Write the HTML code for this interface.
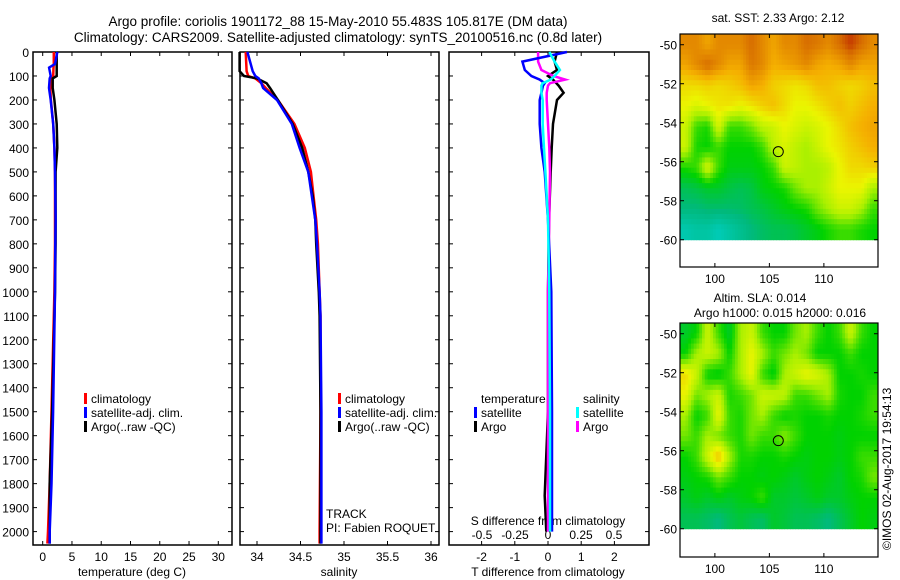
<!DOCTYPE html>
<html><head><meta charset="utf-8"><style>
html,body{margin:0;padding:0;background:#fff;}
svg{display:block;font-family:"Liberation Sans",sans-serif;}
</style></head><body>
<svg id="chart" width="900" height="580" viewBox="0 0 900 580">
<text x="338" y="26" font-size="13.5" text-anchor="middle">Argo profile: coriolis 1901172_88 15-May-2010 55.483S 105.817E (DM data)</text>
<text x="338" y="42" font-size="13.5" text-anchor="middle">Climatology: CARS2009. Satellite-adjusted climatology: synTS_20100516.nc (0.8d later)</text>
<text x="778" y="22" font-size="12" text-anchor="middle">sat. SST: 2.33 Argo: 2.12</text>
<text x="760" y="302" font-size="12" text-anchor="middle">Altim. SLA: 0.014</text>
<text x="780" y="317" font-size="12" text-anchor="middle">Argo h1000: 0.015 h2000: 0.016</text>
<text transform="translate(891,550) rotate(-90)" font-size="12">©IMOS 02-Aug-2017 19:54:13</text>
<g id="g"></g>
</svg>
<script>
const tDepth=[0,50,65,100,110,150,200,300,400,500,700,800,1000,1500,1800,2000,2050];
const tClim=[1.9,1.9,1.85,1.8,1.6,1.3,1.4,1.8,2.0,2.1,2.1,2.1,2.0,1.5,1.2,0.9,0.8];
const tSat=[2.5,2.1,1.1,1.37,1.2,1.07,1.37,1.8,2.0,2.1,2.2,2.15,2.1,1.77,1.5,1.2,1.2];
const tArgo=[2.4,2.4,2.4,2.4,1.7,1.7,2.0,2.4,2.5,2.2,2.2,2.2,2.1,1.6,1.2,1.2,1.2];
const sDepth=[0,80,100,110,130,150,200,300,400,500,600,700,800,1000,1100,1500,2000,2050];
const sClim=[33.87,33.88,33.9,33.98,34.05,34.1,34.24,34.43,34.55,34.62,34.65,34.68,34.7,34.72,34.73,34.73,34.72,34.72];
const sSat=[33.89,33.95,33.98,34.02,34.05,34.07,34.23,34.4,34.49,34.59,34.63,34.67,34.69,34.72,34.73,34.74,34.74,34.74];
const sArgo=[33.8,33.8,33.85,34.0,34.11,34.15,34.24,34.41,34.52,34.59,34.64,34.67,34.68,34.71,34.72,34.73,34.73,34.73];
const dDepth=[0,40,75,100,115,130,140,170,200,300,400,500,700,1000,1500,1850,2000];
const dTSat=[0.57,-0.77,-0.7,-0.5,-0.25,-0.1,-0.15,-0.2,-0.25,-0.25,-0.2,-0.1,0,0.1,0.12,0.12,0.12];
const dTArgo=[0.27,0.2,0.27,0,0.15,0.25,0.32,0.47,0.27,0.15,0.11,0.08,0.03,0,0,-0.1,-0.05];
const dSSat=[0.01,0.05,0.09,0.05,0.02,-0.04,-0.05,-0.05,-0.04,-0.04,-0.03,-0.02,0,0.01,0.015,0.015,0.015];
const dSArgo=[-0.075,-0.075,-0.05,0.04,0.13,0.015,0.0,-0.01,-0.01,0,0.01,0.015,0.01,0,0,0,0];
const depthTicks=[0,100,200,300,400,500,600,700,800,900,1000,1100,1200,1300,1400,1500,1600,1700,1800,1900,2000];
const tempTicks=[0,5,10,15,20,25,30];
const salTicks=[34,34.5,35,35.5,36];
const tdTicks=[-2,-1,0,1,2];
const sdTicks=[-0.5,-0.25,0,0.25,0.5];
const sdTickLabels=["-0.5","-0.25","0","0.25","0.5"];
const sstGrid=[
[.85,.85,.8,.85,.85,.85,.9,.85,.8,.85,.85,.9,.88,.85,.9,.95,.9,.85],
[.8,.85,.9,.85,.8,.8,.88,.85,.78,.8,.82,.85,.8,.78,.8,.85,.8,.8],
[.7,.7,.72,.7,.72,.75,.8,.78,.72,.7,.68,.7,.75,.75,.72,.7,.72,.75],
[.65,.62,.65,.68,.68,.65,.68,.72,.75,.7,.65,.65,.68,.72,.75,.72,.75,.78],
[.6,.45,.42,.62,.45,.45,.5,.58,.6,.65,.62,.6,.62,.65,.7,.75,.78,.8],
[.6,.42,.4,.45,.4,.4,.4,.45,.58,.62,.58,.55,.6,.65,.68,.72,.75,.78],
[.42,.45,.62,.45,.38,.38,.38,.4,.45,.6,.58,.55,.55,.58,.65,.7,.7,.72],
[.3,.32,.35,.35,.32,.3,.32,.38,.4,.42,.5,.55,.55,.6,.65,.65,.65,.55],
[.25,.25,.27,.27,.27,.28,.3,.32,.35,.38,.4,.42,.5,.55,.6,.6,.55,.45],
[.12,.15,.15,.1,.15,.2,.25,.28,.3,.3,.32,.35,.38,.42,.45,.45,.42,.4]];
const slaGrid=[
[.35,.4,.6,.45,.35,.55,.6,.45,.4,.4,.5,.55,.45,.4,.45,.6,.45,.4],
[.4,.55,.6,.55,.4,.55,.65,.55,.45,.5,.55,.5,.4,.4,.4,.45,.4,.4],
[.7,.6,.4,.38,.45,.55,.65,.45,.38,.55,.6,.65,.62,.55,.4,.4,.42,.4],
[.65,.5,.55,.6,.42,.45,.5,.6,.6,.58,.45,.45,.5,.55,.42,.4,.4,.45],
[.55,.4,.45,.65,.45,.42,.5,.55,.45,.4,.42,.4,.4,.42,.4,.4,.42,.45],
[.5,.45,.55,.5,.45,.42,.5,.45,.45,.52,.45,.4,.4,.4,.38,.4,.4,.4],
[.4,.45,.6,.75,.55,.42,.42,.4,.4,.42,.4,.38,.4,.4,.38,.4,.45,.45],
[.38,.4,.42,.5,.45,.4,.4,.38,.4,.38,.35,.38,.4,.38,.35,.4,.42,.5],
[.35,.38,.35,.38,.35,.38,.4,.45,.35,.35,.33,.35,.38,.35,.35,.38,.4,.4],
[.3,.3,.28,.25,.3,.33,.3,.28,.35,.33,.3,.3,.28,.25,.3,.35,.4,.38]];
const latTicks=[-50,-52,-54,-56,-58,-60];
const lonTicks=[100,105,110];
const argoLon=105.817, argoLat=-55.483;

const NS="http://www.w3.org/2000/svg";
const G=document.getElementById('g');
function mk(tag,attrs,parent){const e=document.createElementNS(NS,tag);for(const k in attrs)e.setAttribute(k,attrs[k]);(parent||G).appendChild(e);return e;}
function txt(x,y,s,size,anchor,parent){const t=mk('text',{x:x,y:y,'font-size':size,'text-anchor':anchor||'start'},parent);t.textContent=s;return t;}

const PT=52,PB=545;
const yD=d=>PT+d*0.2398;
const xT=v=>42.7+v*5.853;
const xS=v=>257+(v-34)*87;
const xTD=v=>548+v*33.2;
const xSD=v=>548+v*132;
const panels=[[33,232],[240,439],[449,649]];

panels.forEach((p,i)=>{
  const r=mk('rect',{x:p[0],y:PT,width:p[1]-p[0],height:PB-PT,fill:'none',stroke:'#000','stroke-width':1.5});
  
  
  depthTicks.forEach(d=>{
    mk('line',{x1:p[0],x2:p[0]+4,y1:yD(d),y2:yD(d),stroke:'#000'});
    mk('line',{x1:p[1]-4,x2:p[1],y1:yD(d),y2:yD(d),stroke:'#000'});
  });
});
depthTicks.forEach(d=>{
  const t=txt(29,yD(d)+5,String(d),12,'end');
  
  
});
function xticks(vals,fx,labels,ly){
  vals.forEach((v,i)=>{
    const x=fx(v);
    mk('line',{x1:x,x2:x,y1:PT,y2:PT+4,stroke:'#000'});
    mk('line',{x1:x,x2:x,y1:PB-4,y2:PB,stroke:'#000'});
    const t=txt(x,ly,labels?labels[i]:String(v),12,'middle');
    
    
  });
}
xticks(tempTicks,xT,null,561);
xticks(salTicks,xS,null,561);
xticks(tdTicks,xTD,null,561);
sdTicks.forEach((v,i)=>{
  const t=txt(xSD(v),539,sdTickLabels[i],12,'middle');
  
  
});
[[132,'temperature (deg C)','x-axis-title-temperature'],[339,'salinity','x-axis-title-salinity'],[548,'T difference from climatology','x-axis-title-t-diff']].forEach(a=>{
  const t=txt(a[0],576,a[1],12,'middle');
  
  
});
const st=txt(548,525,'S difference from climatology',12,'middle');



function line(depths,vals,fx,color,name){
  const pts=depths.map((d,i)=>fx(vals[i]).toFixed(1)+','+yD(d).toFixed(1)).join(' ');
  const l=mk('polyline',{points:pts,fill:'none',stroke:color,'stroke-width':2.5});
  
  
}
line(tDepth,tClim,xT,'#f00','temp-climatology-line');
line(tDepth,tArgo,xT,'#000','temp-argo-line');
line(tDepth,tSat,xT,'#00f','temp-satellite-line');
line(sDepth,sClim,xS,'#f00','sal-climatology-line');
line(sDepth,sArgo,xS,'#000','sal-argo-line');
line(sDepth,sSat,xS,'#00f','sal-satellite-line');
line(dDepth,dTArgo,xTD,'#000','tdiff-argo-line');
line(dDepth,dSArgo,xSD,'#f0f','sdiff-argo-line');
line(dDepth,dTSat,xTD,'#00f','tdiff-satellite-line');
line(dDepth,dSSat,xSD,'#0ff','sdiff-satellite-line');

function legend(x,y,color,label,name){
  const m=mk('rect',{x:x,y:y-10,width:3,height:11,fill:color});
  
  
  const t=txt(x+7,y,label,12);
  
  
}
[[84,'climatology-legend'],[338,'sal-climatology-legend']].forEach(a=>{
  legend(a[0],403,'#f00','climatology',a[1]);
  legend(a[0],417,'#00f','satellite-adj. clim.',a[1]+'-sat');
  legend(a[0],431,'#000','Argo(..raw -QC)',a[1]+'-argo');
});
const lt=txt(481,403,'temperature',12);
const ls=txt(583,403,'salinity',12);
legend(474,417,'#00f','satellite','legend-t-satellite');
legend(474,431,'#000','Argo','legend-t-argo');
legend(576,417,'#0ff','satellite','legend-s-satellite');
legend(576,431,'#f0f','Argo','legend-s-argo');
const tr=txt(326,518,'TRACK',12);
const pi=txt(326,532,'PI: Fabien ROQUET',12);

const stops=[[0,[0,215,220]],[0.25,[0,185,125]],[0.4,[0,210,0]],[0.55,[170,240,0]],[0.65,[235,245,0]],[0.78,[245,175,0]],[0.9,[215,110,0]],[1,[180,10,0]]];
function cmap(v){v=Math.max(0,Math.min(1,v));for(let i=1;i<stops.length;i++){if(v<=stops[i][0]){const a=stops[i-1],b=stops[i],f=(v-a[0])/(b[0]-a[0]);return 'rgb('+a[1].map((c,k)=>Math.round(c+(b[1][k]-c)*f)).join(',')+')';}}return 'rgb(180,10,0)';}
function sample(grid,r,c){
  const R=grid.length,C=grid[0].length;
  r=Math.max(0,Math.min(R-1,r));c=Math.max(0,Math.min(C-1,c));
  const r0=Math.floor(r),c0=Math.floor(c),r1=Math.min(R-1,r0+1),c1=Math.min(C-1,c0+1),fr=r-r0,fc=c-c0;
  return grid[r0][c0]*(1-fr)*(1-fc)+grid[r0][c1]*(1-fr)*fc+grid[r1][c0]*fr*(1-fc)+grid[r1][c1]*fr*fc;
}
function map(top,bottom,grid,name){
  const L=680,R=878;
  const lx=lon=>L+(lon-96.8)*10.9;
  const ly=lat=>top+(-49.45-lat)*19.5;
  const imgBottom=ly(-60);
  const rows=grid.length,cols=grid[0].length,sub=4;
  const cw=(R-L)/(cols*sub),ch=(imgBottom-top)/(rows*sub);
  const g=mk('g',{});
  
  
  for(let r=0;r<rows*sub;r++)for(let c=0;c<cols*sub;c++){
    const v=sample(grid,(r+0.5)/sub-0.5,(c+0.5)/sub-0.5);
    mk('rect',{x:(L+c*cw).toFixed(2),y:(top+r*ch).toFixed(2),width:(cw+0.5).toFixed(2),height:(ch+0.5).toFixed(2),fill:cmap(v)},g);
  }
  const fr=mk('rect',{x:L,y:top,width:R-L,height:bottom-top,fill:'none',stroke:'#000','stroke-width':1.2});
  
  
  latTicks.forEach(l=>{
    mk('line',{x1:L,x2:L+4,y1:ly(l),y2:ly(l),stroke:'#000'});
    mk('line',{x1:R-4,x2:R,y1:ly(l),y2:ly(l),stroke:'#000'});
    const t=txt(L-3,ly(l)+5,String(l),12,'end');
    
    
  });
  lonTicks.forEach(l=>{
    mk('line',{x1:lx(l),x2:lx(l),y1:top,y2:top+4,stroke:'#000'});
    mk('line',{x1:lx(l),x2:lx(l),y1:bottom-4,y2:bottom,stroke:'#000'});
    const t=txt(lx(l),bottom+16,String(l),12,'middle');
    
    
  });
  const c=mk('circle',{cx:lx(argoLon),cy:ly(argoLat),r:5,fill:'none',stroke:'#000','stroke-width':1});
  
  
}
map(34,267,sstGrid,'sst-map');
map(323,557,slaGrid,'sla-map');
</script>
</body></html>
